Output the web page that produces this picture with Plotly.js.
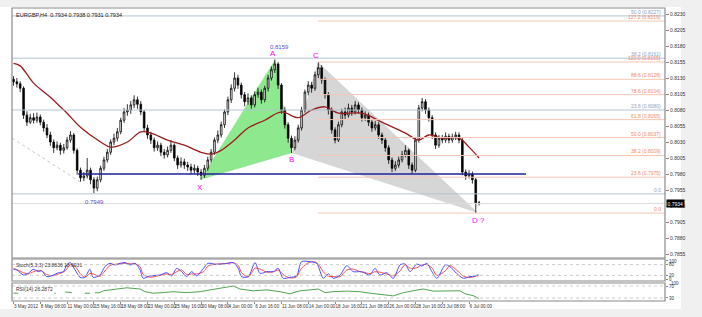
<!DOCTYPE html>
<html><head><meta charset="utf-8">
<script src="https://cdn.plot.ly/plotly-3.0.1.min.js"></script>
<style>html,body{margin:0;padding:0;background:#f0f0f0;overflow:hidden}#chart{width:702px;height:317px}</style>
</head><body><div id="chart"></div>
<script>
// ---- data (EURGBP H4, each bar here = 8h) ----
const openP = [0.8128,0.8124,0.8121,0.8114,0.8072,0.8061,0.8068,0.8064,0.8069,0.8061,
0.8052,0.8041,0.8030,0.8021,0.8025,0.8017,0.8021,0.8033,0.8041,0.8017,
0.7986,0.7974,0.7977,0.7986,0.7971,0.7958,0.7971,0.7989,0.8002,0.8014,
0.8030,0.8036,0.8046,0.8064,0.8077,0.8080,0.8088,0.8096,0.8089,0.8077,
0.8052,0.8041,0.8033,0.8021,0.8025,0.8014,0.8010,0.8017,0.8025,0.8005,
0.7994,0.7999,0.7994,0.7991,0.7986,0.7989,0.7983,0.7978,0.7989,0.8002,
0.8014,0.8033,0.8041,0.8057,0.8077,0.8096,0.8114,0.8130,0.8119,0.8104,
0.8093,0.8099,0.8088,0.8104,0.8108,0.8096,0.8114,0.8130,0.8143,0.8152,
0.8119,0.8080,0.8057,0.8036,0.8021,0.8033,0.8052,0.8080,0.8108,0.8119,
0.8114,0.8135,0.8146,0.8127,0.8104,0.8080,0.8049,0.8033,0.8057,0.8077,
0.8072,0.8083,0.8077,0.8088,0.8080,0.8068,0.8072,0.8061,0.8052,0.8057,
0.8041,0.8033,0.8021,0.8002,0.7989,0.7994,0.8002,0.8010,0.8017,0.7994,
0.7986,0.8033,0.8083,0.8093,0.8080,0.8068,0.8041,0.8025,0.8036,0.8033,
0.8039,0.8033,0.8038,0.8041,0.8033,0.7983,0.7977,0.7980,0.7971,0.7935];
const highP = [0.8133,0.8130,0.8125,0.8117,0.8078,0.8074,0.8075,0.8076,0.8073,0.8065,
0.8058,0.8046,0.8034,0.8031,0.8029,0.8027,0.8038,0.8047,0.8044,0.8020,
0.7990,0.7983,0.8005,0.7990,0.7975,0.7976,0.7993,0.8007,0.8019,0.8034,
0.8043,0.8052,0.8068,0.8083,0.8089,0.8094,0.8103,0.8101,0.8094,0.8080,
0.8057,0.8046,0.8037,0.8031,0.8029,0.8019,0.8023,0.8033,0.8028,0.8009,
0.8006,0.8004,0.7999,0.7996,0.7995,0.7993,0.7988,0.7994,0.8007,0.8019,
0.8037,0.8048,0.8062,0.8081,0.8101,0.8120,0.8139,0.8135,0.8123,0.8108,
0.8106,0.8103,0.8109,0.8115,0.8112,0.8118,0.8135,0.8148,0.8159,0.8155,
0.8122,0.8085,0.8061,0.8040,0.8039,0.8057,0.8085,0.8112,0.8125,0.8124,
0.8140,0.8155,0.8150,0.8131,0.8108,0.8084,0.8053,0.8062,0.8082,0.8084,
0.8090,0.8088,0.8094,0.8092,0.8084,0.8078,0.8076,0.8065,0.8063,0.8061,
0.8045,0.8037,0.8025,0.8006,0.8000,0.8007,0.8016,0.8025,0.8020,0.7998,
0.8038,0.8088,0.8099,0.8097,0.8084,0.8072,0.8045,0.8041,0.8041,0.8045,
0.8043,0.8043,0.8046,0.8045,0.8036,0.7987,0.7986,0.7984,0.7974,0.7938];
const lowP = [0.8118,0.8115,0.8108,0.8066,0.8055,0.8058,0.8059,0.8060,0.8056,0.8046,
0.8036,0.8024,0.8013,0.8017,0.8010,0.8012,0.8018,0.8029,0.8012,0.7979,
0.7968,0.7969,0.7973,0.7964,0.7950,0.7953,0.7967,0.7985,0.7998,0.8010,
0.8025,0.8031,0.8042,0.8060,0.8071,0.8074,0.8083,0.8082,0.8072,0.8046,
0.8035,0.8027,0.8015,0.8016,0.8008,0.8004,0.8006,0.8013,0.8000,0.7988,
0.7990,0.7988,0.7985,0.7980,0.7981,0.7977,0.7971,0.7974,0.7985,0.7998,
0.8010,0.8028,0.8037,0.8052,0.8072,0.8091,0.8109,0.8113,0.8098,0.8086,
0.8088,0.8082,0.8084,0.8099,0.8090,0.8092,0.8109,0.8126,0.8138,0.8113,
0.8074,0.8051,0.8029,0.8013,0.8017,0.8029,0.8048,0.8076,0.8103,0.8107,
0.8110,0.8130,0.8121,0.8098,0.8073,0.8043,0.8028,0.8030,0.8053,0.8066,
0.8068,0.8071,0.8073,0.8074,0.8062,0.8063,0.8055,0.8046,0.8048,0.8035,
0.8027,0.8015,0.7996,0.7983,0.7985,0.7990,0.7998,0.8006,0.7988,0.7981,
0.7983,0.8029,0.8078,0.8074,0.8062,0.8035,0.8019,0.8021,0.8028,0.8029,
0.8028,0.8029,0.8033,0.8028,0.7978,0.7971,0.7973,0.7965,0.7919,0.7931];
const closeP = [0.8124,0.8121,0.8114,0.8072,0.8061,0.8068,0.8064,0.8069,0.8061,0.8052,
0.8041,0.8030,0.8021,0.8025,0.8017,0.8021,0.8033,0.8041,0.8017,0.7986,
0.7974,0.7977,0.7986,0.7971,0.7958,0.7971,0.7989,0.8002,0.8014,0.8030,
0.8036,0.8046,0.8064,0.8077,0.8080,0.8088,0.8096,0.8089,0.8077,0.8052,
0.8041,0.8033,0.8021,0.8025,0.8014,0.8010,0.8017,0.8025,0.8005,0.7994,
0.7999,0.7994,0.7991,0.7986,0.7989,0.7983,0.7978,0.7989,0.8002,0.8014,
0.8033,0.8041,0.8057,0.8077,0.8096,0.8114,0.8130,0.8119,0.8104,0.8093,
0.8099,0.8088,0.8104,0.8108,0.8096,0.8114,0.8130,0.8143,0.8152,0.8119,
0.8080,0.8057,0.8036,0.8021,0.8033,0.8052,0.8080,0.8108,0.8119,0.8114,
0.8135,0.8146,0.8127,0.8104,0.8080,0.8049,0.8033,0.8057,0.8077,0.8072,
0.8083,0.8077,0.8088,0.8080,0.8068,0.8072,0.8061,0.8052,0.8057,0.8041,
0.8033,0.8021,0.8002,0.7989,0.7994,0.8002,0.8010,0.8017,0.7994,0.7986,
0.8033,0.8083,0.8093,0.8080,0.8068,0.8041,0.8025,0.8036,0.8033,0.8039,
0.8033,0.8038,0.8041,0.8033,0.7983,0.7977,0.7980,0.7971,0.7935,0.7934];

const maIdx = [0,2,6,11,14,16,20,26,29,34,38,41,46,51,56,59,62,66,70,75,80,85,89,93,97,104,110,117,121,124,128,133,136,139];
const maVal = [0.8153,0.8149,0.8122,0.8100,0.8085,0.8075,0.8053,0.8030,0.8022,0.8030,0.8046,0.8044,0.8033,0.8025,0.8014,0.8011,0.8017,0.8033,0.8052,0.8064,0.8077,0.8068,0.8080,0.8085,0.8075,0.8075,0.8061,0.8044,0.8033,0.8041,0.8036,0.8036,0.8022,0.8005];

const stochIdx = [0,1,3,4.4,5.9,7.4,8.4,9.9,11.9,13.4,14.9,15.9,16.9,18.4,19.9,21.3,22.8,23.8,25.8,27.3,28.8,30.3,31.8,33.3,34.8,36.3,37.8,38.7,40.7,43.7,45.7,47.2,48.7,50.2,51.7,53.2,54.7,56.7,58.1,60.7,63.6,65.6,67.1,68.1,70.1,72.1,73.6,75.6,77.6,79.0,80.5,82.5,84.5,86.0,88.5,90.5,92.5,94.0,95.5,97.5,99.5,101.4,103.4,104.4,106.4,107.9,109.4,111.4,113.4,115.4,116.9,118.4,120.4,121.9,123.4,124.9,126.4,128.9,130.3,132.3,134.3,136.3,137.8,138.8];
const stochMain = [54,50,22,31,54,41,46,13,22,35,41,78,91,50,9,9,54,9,22,69,87,78,87,91,78,87,50,4,17,22,35,17,59,41,13,41,17,59,87,81,87,91,59,13,13,91,31,41,41,59,4,9,17,96,96,87,4,28,4,22,74,41,41,37,22,59,22,35,4,78,83,41,83,72,87,41,4,78,69,31,4,13,17,24];
const stochSignal = [58,52,35,28,40,48,45,25,18,28,38,55,80,70,30,10,30,28,15,45,75,82,83,88,84,84,68,25,10,20,28,25,40,50,25,28,28,40,72,83,85,90,75,35,12,60,55,38,40,50,25,6,12,60,94,92,40,15,14,13,50,55,41,39,30,40,38,28,18,45,80,60,62,78,80,62,20,45,74,50,16,8,15,19];

const rsiIdx = [0,1.4,2,12.2,12.6,13,15.4,17.4,18,21.3,22.8,23.5,24.3,25.8,26.8,28.8,30.8,33.8,35.8,37.8,39.3,41.7,44.7,47.7,51.7,55.7,58.7,61.7,65.6,67.6,71.6,75.6,79.6,82.5,85.5,88.5,91,93,95.3,99.5,103.4,106.4,110.4,113.4,116.4,120.4,122.3,125.3,129.3,133.3,134.8,137.2,139];
const rsiVal = [46,46,null,46,46,null,50,48,null,46,46,null,47,48,54,57,61,64,62,60,51,46,48,51,48,51,57,62,70,60,54,57,51,44,54,57,60,48,51,53,51,46,40,37,48,57,60,53,53,54,44,38,28];

const tickIdx = [0,8,16,24,32,40,48,56,64,72,80,88,96,104,112,120,128,136];
const tickText = ['3 May 2012','8 May 08:00','11 May 00:00','15 May 16:00','18 May 08:00','23 May 00:00','25 May 16:00','30 May 08:00','4 Jun 00:00','6 Jun 16:00','11 Jun 08:00','14 Jun 00:00','18 Jun 16:00','21 Jun 08:00','26 Jun 00:00','28 Jun 16:00','3 Jul 08:00','6 Jul 00:00'];
const priceTicks = [0.7855,0.7880,0.7905,0.7930,0.7955,0.7980,0.8005,0.8030,0.8055,0.8080,0.8105,0.8130,0.8155,0.8180,0.8205,0.8230];

// harmonic pattern points X A B C D
const patLabel = ['X','A','B','C','D ?'];
const patIdx = [55.7,78.1,83.1,90.9,138.7];
const patPrice = [0.7971,0.8159,0.8013,0.8155,0.7919];

// fibonacci levels
const fibBlueLevel = ['0.0','23.6','38.2','50.0'];
const fibBluePrice = [0.7949,0.8080,0.8161,0.8227];
const fibOrLevel = ['0.0','23.6','38.2','50.0','61.8','78.6','88.6','100.0','127.2'];
const fibOrPrice = [0.7919,0.7975,0.8009,0.8037,0.8065,0.8104,0.8128,0.8155,0.8219];
const neckPrice = 0.7980, neckFrom = 19.3, neckTo = 153;
const lowLabelIdx = 24.3, lowLabelPrice = 0.7949;
const trendIdx = [-0.4, 19.8], trendPrice = [0.8036, 0.7968];
const lastPrice = 0.7934;

// ---- layout geometry ----
const XMIN = -0.45, XMAX = 194.5;
const F = 'Liberation Sans, Arial, sans-serif';
const idx = closeP.map((_, i) => i);
const dom = {main:[0.1468,1], st:[0.0683,0.1433], rsi:[0,0.0614]};

const traces = [];
// faint trendline
traces.push({type:'scatter', x:trendIdx, y:trendPrice, mode:'lines', line:{color:'#c8c8c8', width:1, dash:'dot'}, hoverinfo:'skip'});
// candles
traces.push({type:'candlestick', x:idx, open:openP, high:highP, low:lowP, close:closeP,
  increasing:{line:{color:'#000', width:0.8}, fillcolor:'#ffffff'},
  decreasing:{line:{color:'#000', width:0.8}, fillcolor:'#000000'},
  whiskerwidth:0, hoverinfo:'skip'});
// MA
traces.push({type:'scatter', x:maIdx, y:maVal, mode:'lines', line:{color:'#9b1c1c', width:1.3, shape:'spline', smoothing:1}, hoverinfo:'skip'});
// stoch
traces.push({type:'scatter', x:stochIdx, y:stochSignal, yaxis:'y2', mode:'lines', line:{color:'#ff4b4b', width:1, shape:'spline', smoothing:0.8}, hoverinfo:'skip'});
traces.push({type:'scatter', x:stochIdx, y:stochMain, yaxis:'y2', mode:'lines', line:{color:'#4b4bff', width:1, shape:'spline', smoothing:0.8}, hoverinfo:'skip'});
// rsi
traces.push({type:'scatter', x:rsiIdx, y:rsiVal, yaxis:'y3', mode:'lines', connectgaps:false, line:{color:'#3c9a3c', width:0.9}, hoverinfo:'skip'});

const tri = (a, b, c) => 'M ' + patIdx[a] + ',' + patPrice[a] + ' L ' + patIdx[b] + ',' + patPrice[b] + ' L ' + patIdx[c] + ',' + patPrice[c] + ' Z';
const shapes = [];
// white window area
shapes.push({type:'rect', xref:'paper', yref:'paper', x0:-0.0184, x1:1.0245, y0:-0.0273, y1:1.0034, fillcolor:'#ffffff', line:{width:0}, layer:'below'});
// XAB green & BCD gray triangles (behind candles)
shapes.push({type:'path', xref:'x', yref:'y', path:tri(0,1,2), fillcolor:'#8ee88e', line:{width:0}, layer:'below'});
shapes.push({type:'path', xref:'x', yref:'y', path:tri(2,3,4), fillcolor:'#d6d6d6', line:{width:0}, layer:'below'});
// blue fib lines (full width)
fibBluePrice.forEach(p => shapes.push({type:'line', xref:'paper', yref:'y', x0:0, x1:1, y0:p, y1:p, line:{color:'#b3c3d3', width:1}}));
// orange fib lines (from C)
fibOrPrice.forEach(p => shapes.push({type:'line', xref:'x', yref:'y', x0:patIdx[3], x1:XMAX, y0:p, y1:p, line:{color:'#f7c6b2', width:1}}));
// bid line
shapes.push({type:'line', xref:'paper', yref:'y', x0:0, x1:1, y0:lastPrice, y1:lastPrice, line:{color:'#dcdcdc', width:1}});
// neckline
shapes.push({type:'line', xref:'x', yref:'y', x0:neckFrom, x1:neckTo, y0:neckPrice, y1:neckPrice, line:{color:'#1f1fa0', width:1.3}});
// stoch & rsi levels
[80,20].forEach(v => shapes.push({type:'line', xref:'paper', yref:'y2', x0:0, x1:1, y0:v, y1:v, line:{color:'#c0c0c0', width:0.8, dash:'dot'}}));
[70,30].forEach(v => shapes.push({type:'line', xref:'paper', yref:'y3', x0:0, x1:1, y0:v, y1:v, line:{color:'#c0c0c0', width:0.8, dash:'dot'}}));
// panel borders
Object.values(dom).forEach(d => shapes.push({type:'rect', xref:'paper', yref:'paper', x0:0, x1:1, y0:d[0], y1:d[1], line:{color:'#8a8a8a', width:1.2}, fillcolor:'rgba(0,0,0,0)'}));

const ann = [];
const small = (c, s) => ({family:F, size:s || 5, color:c});
ann.push({xref:'paper', yref:'paper', x:0.003, y:0.992, xanchor:'left', yanchor:'top', text:'EURGBP,H4  0.7934 0.7938 0.7931 0.7934', showarrow:false, font:small('#222',5.5)});
ann.push({xref:'paper', yref:'paper', x:0.003, y:dom.st[1]-0.004, xanchor:'left', yanchor:'top', text:'Stoch(5,3,3) 23.8636 18.6931', showarrow:false, font:small('#333',5)});
ann.push({xref:'paper', yref:'paper', x:0.003, y:dom.rsi[1]-0.004, xanchor:'left', yanchor:'top', text:'RSI(14) 26.2872', showarrow:false, font:small('#333',5)});
fibBluePrice.forEach((p, k) => ann.push({xref:'paper', yref:'y', x:0.997, y:p, xanchor:'right', yanchor:'bottom', yshift:-1,
  text: k === 0 ? fibBlueLevel[k] : fibBlueLevel[k] + ' (' + p.toFixed(4) + ')', showarrow:false, font:small('#8ea4bb',5)}));
fibOrPrice.forEach((p, k) => ann.push({xref:'paper', yref:'y', x:0.997, y:p, xanchor:'right', yanchor:'bottom', yshift:-1,
  text: k === 0 ? fibOrLevel[k] : fibOrLevel[k] + ' (' + p.toFixed(4) + ')', showarrow:false, font:small('#f08a6e',5)}));
// pattern labels
const pShift = [[0,-8],[-2,6],[0,-7],[-2,7],[0,-7]];
patLabel.forEach((t, k) => ann.push({x:patIdx[k], y:patPrice[k], text:t, showarrow:false, xshift:pShift[k][0], yshift:pShift[k][1],
  font:{family:F, size:8, color:'#ff00ff'}}));
ann.push({x:patIdx[1], y:patPrice[1], text:patPrice[1].toFixed(4), showarrow:false, xshift:4, yshift:12, font:small('#5a4fc8',6)});
ann.push({x:lowLabelIdx, y:lowLabelPrice, text:lowLabelPrice.toFixed(4), showarrow:false, yshift:-8, font:small('#5a4fc8',6)});
// last price box
ann.push({xref:'paper', yref:'y', x:1, y:lastPrice, xanchor:'left', yanchor:'middle', xshift:1, text:lastPrice.toFixed(4), showarrow:false,
  bgcolor:'#000', borderpad:0.5, font:{family:F, size:5, color:'#fff'}});
// rsi 100 label
ann.push({xref:'paper', yref:'paper', x:1, y:dom.rsi[1], xanchor:'left', yanchor:'middle', xshift:4, text:'100', showarrow:false, font:small('#333',4.5)});

const layout = {
  width:702, height:317, margin:{l:12, r:37, t:8, b:16},
  paper_bgcolor:'#f0f0f0', plot_bgcolor:'#ffffff', showlegend:false,
  xaxis:{range:[XMIN, XMAX], anchor:'y3', rangeslider:{visible:false}, showgrid:false, zeroline:false,
    tickvals:tickIdx, ticktext:tickText, tickangle:0, ticks:'outside', ticklen:2, tickcolor:'#888', ticklabelposition:'outside right',
    tickfont:{family:F, size:4.6, color:'#333'}, showline:false},
  yaxis:{domain:dom.main, range:[0.78488, 0.82394], side:'right', showgrid:false, zeroline:false,
    tickvals:priceTicks, tickformat:'.4f', ticks:'outside', ticklen:3, tickcolor:'#888',
    tickfont:{family:F, size:5, color:'#333'}},
  yaxis2:{domain:dom.st, range:[-11, 111], side:'right', showgrid:false, zeroline:false, anchor:'x',
    tickvals:[100,80,20,0], ticks:'outside', ticklen:2, tickcolor:'#888', tickfont:{family:F, size:4.5, color:'#333'}},
  yaxis3:{domain:dom.rsi, range:[20, 80], side:'right', showgrid:false, zeroline:false, anchor:'x',
    tickvals:[70,30], ticks:'outside', ticklen:2, tickcolor:'#888', tickfont:{family:F, size:4.5, color:'#333'}},
  shapes:shapes, annotations:ann
};
Plotly.newPlot('chart', traces, layout, {staticPlot:true, displayModeBar:false});
</script></body></html>
